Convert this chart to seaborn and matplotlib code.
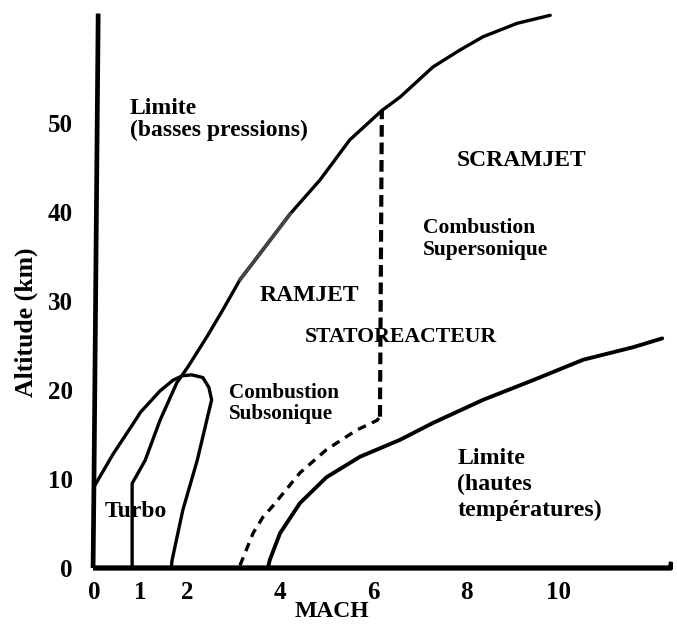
import numpy as np
import pandas as pd
import seaborn as sns
import matplotlib.pyplot as plt

# Flight envelope boundaries (Mach, altitude in km)
low_press_mach = [-0.02, 0.0, 0.09]
low_press_alt = [0.0, 10.0, 62.3]

turbo_mach = [0.02, 0.41, 0.84, 1.0, 1.42, 1.7, 1.9, 2.1, 2.34, 2.47, 2.53, 2.22, 1.91, 1.68, 1.66]
turbo_alt = [9.3, 12.8, 16.2, 17.5, 19.9, 21.1, 21.6, 21.7, 21.4, 20.3, 18.9, 12.1, 6.5, 0.9, 0.0]

ramjet_mach = [0.82, 0.82, 0.95, 1.1, 1.42, 1.78, 2.02, 2.43, 2.77, 3.14, 3.42, 4.22, 4.86,
               5.5, 6.19, 6.58, 7.29, 7.87, 8.37, 9.1, 9.81]
ramjet_alt = [0.0, 9.5, 10.7, 12.1, 16.6, 20.8, 22.6, 26.0, 29.0, 32.4, 34.3, 39.8, 43.6,
              48.1, 51.4, 52.9, 56.3, 58.2, 59.7, 61.2, 62.1]

ram_low_mach = [3.14, 3.42, 3.63, 3.85, 4.43, 5.0, 5.65, 6.09, 6.15]
ram_low_alt = [0.3, 3.9, 5.7, 7.0, 10.7, 13.3, 15.5, 16.6, 17.0]

ram_vert_mach = [6.15, 6.19]
ram_vert_alt = [17.0, 51.4]

scram_mach = [3.74, 3.78, 4.0, 4.43, 5.0, 5.72, 6.58, 7.29, 8.37, 9.44, 10.52, 11.59, 12.22]
scram_alt = [0.0, 0.9, 3.9, 7.3, 10.2, 12.5, 14.4, 16.3, 18.9, 21.1, 23.4, 24.8, 25.8]

base_mach = [-0.02, 12.4, 12.42]
base_alt = [0.0, 0.0, 0.7]

x_ticks = [0, 1, 2, 4, 6, 8, 10]
y_ticks = [0, 10, 20, 30, 40, 50]

labels = [
    ("Limite\n(basses pressions)", 0.77, 52.8, "top", 17, 1.05),
    ("SCRAMJET", 7.81, 45.8, "center", 17, 1.0),
    ("Combustion\nSupersonique", 7.08, 39.3, "top", 15.5, 1.1),
    ("RAMJET", 3.57, 30.6, "center", 17, 1.0),
    ("STATOREACTEUR", 4.54, 26.0, "center", 15.7, 1.0),
    ("Combustion\nSubsonique", 2.9, 20.8, "top", 15.2, 1.1),
    ("Turbo", 0.22, 6.3, "center", 17, 1.0),
    ("Limite\n(hautes\ntempératures)", 7.81, 13.5, "top", 17.2, 1.3),
]

sns.set_theme(style="white")
plt.rcParams['font.family'] = ['Liberation Serif', 'DejaVu Serif']
plt.rcParams['font.weight'] = 'bold'
for key in ['text.color', 'axes.labelcolor', 'xtick.color', 'ytick.color']:
    plt.rcParams[key] = 'black'

fig = plt.figure(figsize=(6.77, 6.28), dpi=100)
xlim = (-0.1, 12.45)
ylim = (-0.5, 62.8)
px_m, x0 = 46.5, 94
px_km, y0 = 8.9, 568
left = x0 + xlim[0] * px_m
right = x0 + xlim[1] * px_m
bottom = y0 - ylim[0] * px_km
top = y0 - ylim[1] * px_km
ax = fig.add_axes([left / 677, 1 - bottom / 628, (right - left) / 677, (bottom - top) / 628])


def curve(xs, ys, **kw):
    df = pd.DataFrame({"Mach": xs, "Alt": ys})
    sns.lineplot(data=df, x="Mach", y="Alt", sort=False, estimator=None,
                 color=kw.pop("color", "black"), ax=ax, **kw)


curve(base_mach, base_alt, linewidth=3.8, solid_capstyle="butt")
curve(low_press_mach, low_press_alt, linewidth=3.4, solid_capstyle="butt")
curve(turbo_mach, turbo_alt, linewidth=2.4)
curve(ramjet_mach, ramjet_alt, linewidth=2.4)
gray = [(m, a) for m, a in zip(ramjet_mach, ramjet_alt) if 3.14 <= m <= 4.22]
curve([g[0] for g in gray], [g[1] for g in gray], linewidth=2.6, color="#444444")
curve(ram_low_mach, ram_low_alt, linewidth=2.4, dashes=(2.6, 2.0))
curve(ram_vert_mach, ram_vert_alt, linewidth=3.0, dashes=(2.8, 1.4))
curve(scram_mach, scram_alt, linewidth=2.8)

for txt, mx, alt, va, fs, ls in labels:
    ax.text(mx, alt, txt, ha="left", va=va, fontsize=fs, fontweight="bold",
            linespacing=ls)

ax.set_xlim(*xlim)
ax.set_ylim(*ylim)
ax.set_xticks(x_ticks)
ax.set_yticks(y_ticks)
ax.tick_params(axis="both", length=0, labelsize=18)
ax.tick_params(axis="x", pad=6)
ax.tick_params(axis="y", pad=12)
for lab in ax.get_xticklabels() + ax.get_yticklabels():
    lab.set_fontweight("bold")
for s in ax.spines.values():
    s.set_visible(False)

ax.set_xlabel("MACH", fontsize=17, fontweight="bold")
ax.xaxis.set_label_coords(0.416, -0.05)
ax.set_ylabel("Altitude (km)", fontsize=18.5, fontweight="bold")
ax.yaxis.set_label_coords(-0.088, 0.4446)

fig.savefig("out.png", dpi=100)
